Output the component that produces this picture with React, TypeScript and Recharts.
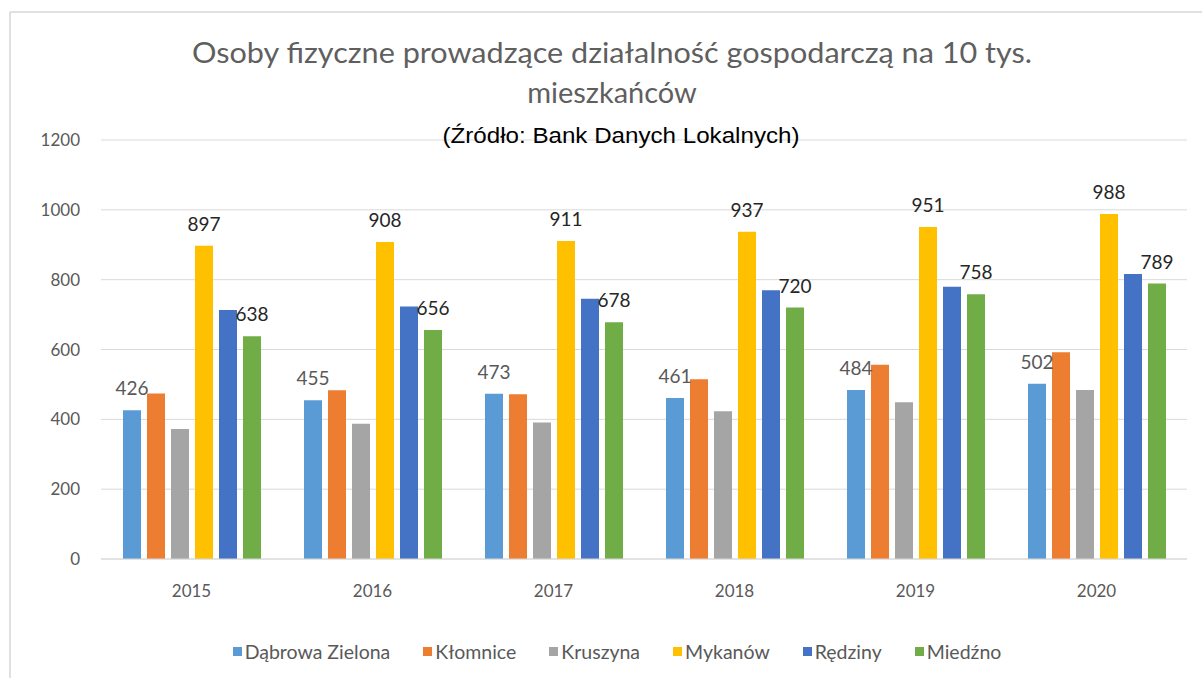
import React from 'react';
import { BarChart, Bar, XAxis, YAxis, CartesianGrid, Legend, LabelList } from 'recharts';

// Values (labelled ones are exact)
const years = ['2015', '2016', '2017', '2018', '2019', '2020'];
const dabrowa = [426, 455, 473, 461, 484, 502];
const klomnice = [474, 483, 472, 515, 556, 592];
const kruszyna = [372, 387, 391, 423, 449, 484];
const mykanow = [897, 908, 911, 937, 951, 988];
const redziny = [713, 723, 745, 770, 780, 816];
const miedzno = [638, 656, 678, 720, 758, 789];

const seriesKeys = ['dabrowa', 'klomnice', 'kruszyna', 'mykanow', 'redziny', 'miedzno'];
const seriesNames = ['Dąbrowa Zielona', 'Kłomnice', 'Kruszyna', 'Mykanów', 'Rędziny', 'Miedźno'];
const seriesValues = [dabrowa, klomnice, kruszyna, mykanow, redziny, miedzno];
const seriesColors = ['#5B9BD5', '#ED7D31', '#A5A5A5', '#FFC000', '#4472C4', '#70AD47'];
// only these series carry data labels in the original
const labelColors: Record<string, string> = { dabrowa: '#595959', mykanow: '#262626', miedzno: '#262626' };

const yTicks = [0, 200, 400, 600, 800, 1000, 1200];

const data = years.map((year, i) => {
  const row: any = { year };
  seriesKeys.forEach((k, s) => {
    row[k] = seriesValues[s][i];
  });
  return row;
});

const FONT = 'Lato, "Open Sans", sans-serif';

// legend keeps the series order of the original (recharts would sort it)
const ChartLegend = () => (
  <div
    style={{
      display: 'flex',
      justifyContent: 'center',
      alignItems: 'center',
      height: 24,
      fontFamily: FONT,
      fontSize: 19.5,
      color: '#595959',
    }}
  >
    {seriesNames.map((name, i) => (
      <div key={name} style={{ display: 'flex', alignItems: 'center', marginRight: i < seriesNames.length - 1 ? 33 : 0 }}>
        <span style={{ display: 'inline-block', width: 9, height: 9, background: seriesColors[i], marginRight: 3 }} />
        <span>{name}</span>
      </div>
    ))}
  </div>
);

export default function App() {
  return (
    <div style={{ position: 'absolute', left: 0, top: 0, width: 1202, height: 678, background: '#fff', fontFamily: FONT }}>
      <BarChart
        width={1202}
        height={678}
        data={data}
        margin={{ top: 140, right: 15, left: 11, bottom: 35 }}
        barSize={18}
        barGap={6}
      >
        <CartesianGrid vertical={false} stroke="#d9d9d9" />
        <XAxis
          dataKey="year"
          tickLine={false}
          axisLine={{ stroke: '#d9d9d9' }}
          tick={{ fill: '#595959', fontSize: 17, fontFamily: FONT }}
          tickMargin={20}
          height={60}
        />
        <YAxis
          domain={[0, 1200]}
          ticks={yTicks}
          width={90}
          axisLine={false}
          tickLine={false}
          tickMargin={15}
          tick={{ fill: '#595959', fontSize: 17, fontFamily: FONT }}
        />
        <Legend
          content={<ChartLegend />}
          wrapperStyle={{ top: 639, bottom: 'auto', left: 32, width: 1170 }}
        />
        {seriesKeys.map((k, s) => (
          <Bar key={k} dataKey={k} name={seriesNames[s]} fill={seriesColors[s]} isAnimationActive={false}>
            {labelColors[k] && (
              <LabelList
                dataKey={k}
                position="top"
                offset={15}
                fill={labelColors[k]}
                fontSize={19}
                fontFamily={FONT}
              />
            )}
          </Bar>
        ))}
      </BarChart>

      <svg
        width={1202}
        height={678}
        style={{ position: 'absolute', left: 0, top: 0, pointerEvents: 'none' }}
      >
        <line x1={10} y1={12} x2={1202} y2={12} stroke="#d6d6d6" strokeWidth={1.5} />
        <line x1={10} y1={12} x2={10} y2={678} stroke="#d6d6d6" strokeWidth={1.5} />
        <text
          x={612}
          y={63}
          textAnchor="middle"
          fontFamily={FONT}
          fontSize={29}
          fill="#5f5f5f"
          textLength={840}
          lengthAdjust="spacingAndGlyphs"
        >
          Osoby fizyczne prowadzące działalność gospodarczą na 10 tys.
        </text>
        <text x={612} y={103} textAnchor="middle" fontFamily={FONT} fontSize={29} fill="#5f5f5f">
          mieszkańców
        </text>
        <text
          x={621}
          y={143}
          textAnchor="middle"
          fontFamily='"Liberation Sans", Arial, sans-serif'
          fontSize={22}
          fill="#000"
          textLength={357}
          lengthAdjust="spacingAndGlyphs"
        >
          (Źródło: Bank Danych Lokalnych)
        </text>
      </svg>
    </div>
  );
}
